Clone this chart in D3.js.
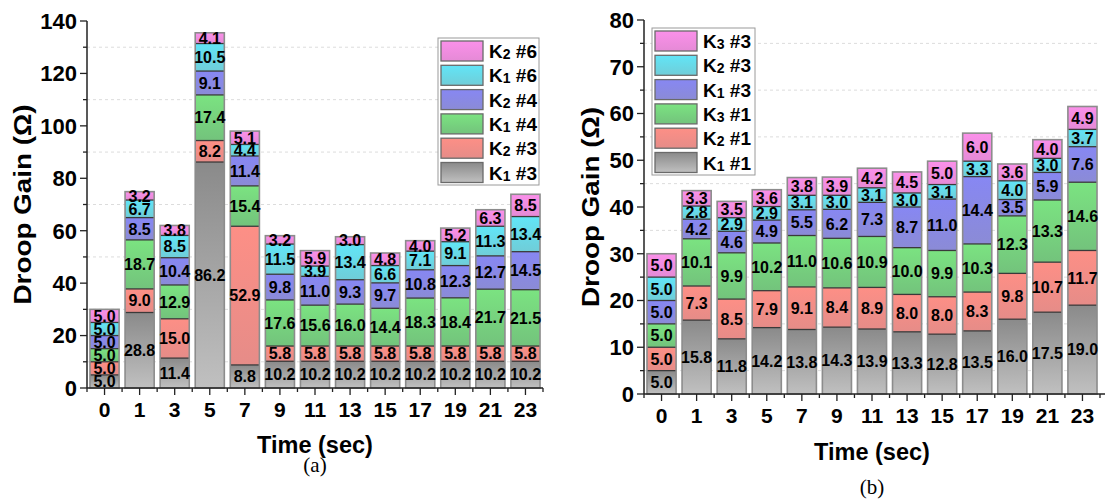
<!DOCTYPE html>
<html>
<head>
  <meta charset="utf-8">
  <script src="https://d3js.org/d3.v7.min.js"></script>
  <style>
    body { margin: 0; background: #fff; }
    text { font-family: "Liberation Sans", Arial, sans-serif; }
  </style>
</head>
<body>
  <svg id="chart" width="1105" height="500"></svg>
  <script>
    // categories (time in seconds)
    const times = ["0", "1", "3", "5", "7", "9", "11", "13", "15", "17", "19", "21", "23"];

    // panel (a) series, bottom to top
    const aK1n3 = [5.0, 28.8, 11.4, 86.2, 8.8, 10.2, 10.2, 10.2, 10.2, 10.2, 10.2, 10.2, 10.2];
    const aK2n3 = [5.0, 9.0, 15.0, 8.2, 52.9, 5.8, 5.8, 5.8, 5.8, 5.8, 5.8, 5.8, 5.8];
    const aK1n4 = [5.0, 18.7, 12.9, 17.4, 15.4, 17.6, 15.6, 16.0, 14.4, 18.3, 18.4, 21.7, 21.5];
    const aK2n4 = [5.0, 8.5, 10.4, 9.1, 11.4, 9.8, 11.0, 9.3, 9.7, 10.8, 12.3, 12.7, 14.5];
    const aK1n6 = [5.0, 6.7, 8.5, 10.5, 4.4, 11.5, 3.9, 13.4, 6.6, 7.1, 9.1, 11.3, 13.4];
    const aK2n6 = [5.0, 3.2, 3.8, 4.1, 5.1, 3.2, 5.9, 3.0, 4.8, 4.0, 5.2, 6.3, 8.5];

    // panel (b) series, bottom to top
    const bK1n1 = [5.0, 15.8, 11.8, 14.2, 13.8, 14.3, 13.9, 13.3, 12.8, 13.5, 16.0, 17.5, 19.0];
    const bK2n1 = [5.0, 7.3, 8.5, 7.9, 9.1, 8.4, 8.9, 8.0, 8.0, 8.3, 9.8, 10.7, 11.7];
    const bK3n1 = [5.0, 10.1, 9.9, 10.2, 11.0, 10.6, 10.9, 10.0, 9.9, 10.3, 12.3, 13.3, 14.6];
    const bK1n3 = [5.0, 4.2, 4.6, 4.9, 5.5, 6.2, 7.3, 8.7, 11.0, 14.4, 3.5, 5.9, 7.6];
    const bK2n3 = [5.0, 2.8, 2.9, 2.9, 3.1, 3.0, 3.1, 3.0, 3.1, 3.3, 4.0, 3.0, 3.7];
    const bK3n3 = [5.0, 3.3, 3.5, 3.6, 3.8, 3.9, 4.2, 4.5, 5.0, 6.0, 3.6, 4.0, 4.9];

    // legend labels [K index, #n]
    const aNames = [["1", "3"], ["2", "3"], ["1", "4"], ["2", "4"], ["1", "6"], ["2", "6"]];
    const bNames = [["1", "1"], ["2", "1"], ["3", "1"], ["1", "3"], ["2", "3"], ["3", "3"]];

    const yTicksA = [0, 20, 40, 60, 80, 100, 120, 140];
    const yTicksB = [0, 10, 20, 30, 40, 50, 60, 70, 80];

    // gradient colours (top, bottom) for each series level
    const colors = [
      ["#8a8a8a", "#c0c0c0"],
      ["#fd8f86", "#e68c88"],
      ["#7be381", "#73c37c"],
      ["#8787f3", "#8b8bd6"],
      ["#61e5f7", "#70cdd8"],
      ["#fb90ea", "#e58ad6"]
    ];

    const svg = d3.select("#chart");
    const defs = svg.append("defs");
    colors.forEach((c, i) => {
      const g = defs.append("linearGradient").attr("id", "grad" + i)
        .attr("x1", 0).attr("y1", 0).attr("x2", 0).attr("y2", 1);
      g.append("stop").attr("offset", "0%").attr("stop-color", c[0]);
      g.append("stop").attr("offset", "100%").attr("stop-color", c[1]);
    });

    function drawPanel(p) {
      const x = d3.scaleBand().domain(times).range([p.x0, p.x1]).paddingInner(0.17).paddingOuter(0.085);
      const y = d3.scaleLinear().domain([0, p.yMax]).range([p.yBottom, p.yTop]);
      const g = svg.append("g");

      // minor grid lines
      const minor = d3.range(p.yStep / 2, p.yMax, p.yStep);
      g.selectAll("line.grid").data(minor).join("line")
        .attr("x1", p.x0).attr("x2", p.x1)
        .attr("y1", d => y(d)).attr("y2", d => y(d))
        .attr("stroke", "#dcdcdc").attr("stroke-dasharray", "3,3");

      // stacked bars
      const rows = times.map((t, i) => {
        const o = { t: t };
        p.series.forEach((s, k) => o["s" + k] = s[i]);
        return o;
      });
      const stack = d3.stack().keys(p.series.map((s, k) => "s" + k))(rows);

      const bars = g.selectAll("g.layer").data(stack).join("g");
      bars.each(function (layer, k) {
        d3.select(this).selectAll("rect").data(layer).join("rect")
          .attr("x", d => x(d.data.t))
          .attr("width", x.bandwidth())
          .attr("y", d => y(d[1]))
          .attr("height", d => y(d[0]) - y(d[1]))
          .attr("fill", "url(#grad" + k + ")");
      });
      // dark separators between segments
      stack.slice(0, -1).forEach(layer => {
        g.selectAll(null).data(layer).join("line")
          .attr("x1", d => x(d.data.t)).attr("x2", d => x(d.data.t) + x.bandwidth())
          .attr("y1", d => y(d[1])).attr("y2", d => y(d[1]))
          .attr("stroke", "#3a3a3a").attr("stroke-width", 1.3);
      });
      // outer outline of each bar
      const top = stack[stack.length - 1];
      g.selectAll("rect.outline").data(top).join("rect")
        .attr("class", "outline")
        .attr("x", d => x(d.data.t))
        .attr("width", x.bandwidth())
        .attr("y", d => y(d[1]))
        .attr("height", d => y(0) - y(d[1]))
        .attr("fill", "none").attr("stroke", "#8c8c8c").attr("stroke-width", 1.6);

      // value labels
      stack.forEach(layer => {
        g.selectAll(null).data(layer).join("text")
          .attr("x", d => x(d.data.t) + x.bandwidth() / 2)
          .attr("y", d => (y(d[0]) + y(d[1])) / 2)
          .attr("dy", "0.36em")
          .attr("text-anchor", "middle")
          .attr("font-size", 16).attr("font-weight", "bold")
          .text(d => (d[1] - d[0]).toFixed(1));
      });

      // x axis
      const xa = g.append("g").attr("transform", `translate(0,${p.yBottom})`);
      xa.append("line").attr("x1", p.x0).attr("x2", p.xAxisEnd)
        .attr("stroke", "#222").attr("stroke-width", 1.5);
      const step = x.step();
      const minorX = times.map(t => x(t) - step * x.paddingInner() / 2).concat([x(times[times.length - 1]) + x.bandwidth() + step * x.paddingInner() / 2]);
      xa.selectAll("line.mx").data(minorX).join("line")
        .attr("x1", d => d).attr("x2", d => d).attr("y1", 0).attr("y2", 4)
        .attr("stroke", "#222").attr("stroke-width", 1.3);
      xa.selectAll("line.tx").data(times).join("line")
        .attr("x1", d => x(d) + x.bandwidth() / 2).attr("x2", d => x(d) + x.bandwidth() / 2)
        .attr("y1", 0).attr("y2", 7)
        .attr("stroke", "#222").attr("stroke-width", 1.3);
      xa.selectAll("text").data(times).join("text")
        .attr("x", d => x(d) + x.bandwidth() / 2).attr("y", 29)
        .attr("text-anchor", "middle").attr("font-size", 21).attr("font-weight", "bold")
        .text(d => d);

      // y axis
      const ya = g.append("g").attr("transform", `translate(${p.x0},0)`);
      ya.append("line").attr("y1", p.yBottom).attr("y2", p.yTop)
        .attr("stroke", "#222").attr("stroke-width", 1.5);
      ya.selectAll("line.my").data(minor).join("line")
        .attr("x1", -4).attr("x2", 0).attr("y1", d => y(d)).attr("y2", d => y(d))
        .attr("stroke", "#222").attr("stroke-width", 1.3);
      ya.selectAll("line.ty").data(p.yTicks).join("line")
        .attr("x1", -7).attr("x2", 0).attr("y1", d => y(d)).attr("y2", d => y(d))
        .attr("stroke", "#222").attr("stroke-width", 1.3);
      ya.selectAll("text").data(p.yTicks).join("text")
        .attr("x", -10).attr("y", d => y(d)).attr("dy", "0.36em")
        .attr("text-anchor", "end").attr("font-size", 22).attr("font-weight", "bold")
        .text(d => d);

      // axis titles
      svg.append("text")
        .attr("transform", `translate(${p.yTitleX},${(p.yTop + p.yBottom) / 2}) rotate(-90)`)
        .attr("dy", "0.36em")
        .attr("text-anchor", "middle").attr("font-size", 24).attr("font-weight", "bold")
        .attr("textLength", 200).attr("lengthAdjust", "spacingAndGlyphs")
        .text("Droop Gain (Ω)");
      svg.append("text")
        .attr("x", (p.x0 + p.x1) / 2).attr("y", p.titleY)
        .attr("text-anchor", "middle").attr("font-size", 23.5).attr("font-weight", "bold")
        .text("Time (sec)");
      svg.append("text")
        .attr("x", (p.x0 + p.x1) / 2).attr("y", p.capY)
        .attr("text-anchor", "middle").attr("font-size", 21)
        .style("font-family", "'Liberation Serif', 'Times New Roman', serif")
        .text(p.caption);

      // legend
      const lg = svg.append("g").attr("transform", `translate(${p.legX},${p.legY})`);
      lg.append("rect").attr("width", p.legW).attr("height", 147)
        .attr("fill", "#fff").attr("stroke", "#9a9a9a").attr("stroke-width", 1);
      const items = p.names.map((n, k) => ({ n: n, k: k })).reverse();
      const row = lg.selectAll("g").data(items).join("g")
        .attr("transform", (d, i) => `translate(3,${3 + i * 24.3})`);
      row.append("rect").attr("width", 42).attr("height", 20)
        .attr("fill", d => "url(#grad" + d.k + ")")
        .attr("stroke", "#6a6a6a").attr("stroke-width", 1.3);
      const lt = row.append("text").attr("x", 48).attr("y", 17)
        .attr("font-size", 19).attr("font-weight", "bold");
      lt.append("tspan").text("K");
      lt.append("tspan").attr("font-size", 14).attr("dy", 1).text(d => d.n[0]);
      lt.append("tspan").attr("dy", -1).text(d => " #" + d.n[1]);
    }

    drawPanel({
      series: [aK1n3, aK2n3, aK1n4, aK2n4, aK1n6, aK2n6],
      names: aNames, yMax: 140, yStep: 20, yTicks: yTicksA,
      x0: 87, x1: 543, xAxisEnd: 543, yBottom: 388, yTop: 21,
      yTitleX: 22, titleY: 453, caption: "(a)", capY: 472,
      legX: 438, legY: 38, legW: 101
    });
    drawPanel({
      series: [bK1n1, bK2n1, bK3n1, bK1n3, bK2n3, bK3n3],
      names: bNames, yMax: 80, yStep: 10, yTicks: yTicksB,
      x0: 644, x1: 1100, xAxisEnd: 1105, yBottom: 394, yTop: 20,
      yTitleX: 590, titleY: 460, caption: "(b)", capY: 494,
      legX: 652, legY: 28, legW: 103
    });
  </script>
</body>
</html>
